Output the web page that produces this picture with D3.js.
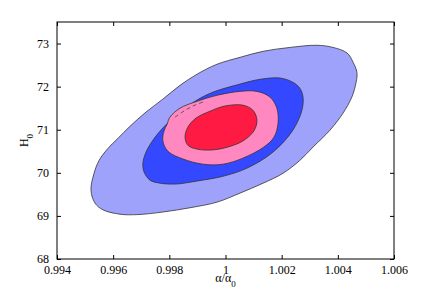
<!DOCTYPE html>
<html><head><meta charset="utf-8">
<script src="https://cdn.jsdelivr.net/npm/d3@7"></script>
<style>html,body{margin:0;padding:0;background:#fff;}svg{display:block;}</style>
</head><body><svg id="c" width="436" height="293"></svg>
<script>
const xTicks = [0.994, 0.996, 0.998, 1, 1.002, 1.004, 1.006];
const xTickLabels = ["0.994","0.996","0.998","1","1.002","1.004","1.006"];
const yTicks = [68, 69, 70, 71, 72, 73];
const yTickLabels = ["68","69","70","71","72","73"];

// contour level names
const levels = ["outer", "blue", "pink", "red"];
const levelColors = ["#9ea2fb", "#3348ff", "#ff88c0", "#ff1a44"];

// contour polygons (alpha/alpha0, H0)
const outerX = [0.99521,0.99532,0.99550,0.99582,0.99617,0.99660,0.99717,0.99777,0.99838,0.99899,0.99970,1.00052,1.00134,1.00230,1.00326,1.00383,1.00433,1.00454,1.00468,1.00465,1.00450,1.00418,1.00372,1.00312,1.00265,1.00205,1.00134,1.00052,0.99970,0.99874,0.99777,0.99685,0.99624,0.99564,0.99535];
const outerY = [69.60,69.99,70.29,70.57,70.80,71.08,71.41,71.71,72.03,72.29,72.52,72.68,72.82,72.91,72.96,72.91,72.78,72.57,72.33,72.10,71.76,71.38,70.99,70.60,70.29,69.99,69.76,69.53,69.32,69.19,69.09,69.03,69.04,69.14,69.30];

const blueX = [1.00052,1.00123,1.00194,1.00240,1.00265,1.00276,1.00272,1.00240,1.00169,1.00077,0.99991,0.99899,0.99824,0.99767,0.99731,0.99710,0.99706,0.99717,0.99742,0.99777,0.99838,0.99899,0.99955];
const blueY = [72.06,72.17,72.20,72.10,71.96,71.76,71.45,70.99,70.48,70.11,69.92,69.81,69.74,69.76,69.83,70.02,70.23,70.48,70.76,71.04,71.41,71.69,71.87];

const pinkX = [0.99802,0.99838,0.99899,0.99970,1.00052,1.00112,1.00158,1.00183,1.00187,1.00173,1.00137,1.00062,0.99991,0.99920,0.99849,0.99795,0.99777,0.99781,0.99792];
const pinkY = [71.29,71.50,71.66,71.80,71.89,71.89,71.76,71.50,71.15,70.83,70.60,70.34,70.20,70.20,70.32,70.50,70.74,70.97,71.13];

const redX = [0.99856,0.99866,0.99895,0.99945,0.99998,1.00062,1.00098,1.00112,1.00101,1.00062,1.00009,0.99952,0.99899,0.99866];
const redY = [70.83,71.06,71.27,71.43,71.55,71.57,71.45,71.22,70.97,70.74,70.60,70.53,70.55,70.64];

const dashX = [0.99820,0.99856,0.99891,0.99927];
const dashY = [71.29,71.45,71.57,71.66];

const W = 436, H = 293;
const m = {left: 57, right: 42, top: 22, bottom: 34};
const x = d3.scaleLinear().domain([0.994, 1.006]).range([m.left, W - m.right]);
const y = d3.scaleLinear().domain([68, 73.5]).range([H - m.bottom, m.top]);

const svg = d3.select("#c");
const font = "'Liberation Serif','Times New Roman',serif";

const polys = [[outerX, outerY], [blueX, blueY], [pinkX, pinkY], [redX, redY]];
const closed = d3.line().x(d => x(d[0])).y(d => y(d[1])).curve(d3.curveCatmullRomClosed.alpha(0.5));
const open = d3.line().x(d => x(d[0])).y(d => y(d[1])).curve(d3.curveCatmullRom);

svg.append("g").selectAll("path").data(polys).join("path")
  .attr("d", p => closed(p[0].map((v, i) => [v, p[1][i]])))
  .attr("fill", (p, i) => levelColors[i])
  .attr("stroke", "#333")
  .attr("stroke-width", 0.8);

svg.append("path")
  .attr("d", open(dashX.map((v, i) => [v, dashY[i]])))
  .attr("fill", "none").attr("stroke", "#444").attr("stroke-width", 0.8)
  .attr("stroke-dasharray", "4,3");

// frame
const x0 = x(0.994), x1 = x(1.006), y0 = y(68), y1 = y(73.5);
svg.append("rect").attr("x", x0).attr("y", y1).attr("width", x1 - x0).attr("height", y0 - y1)
  .attr("fill", "none").attr("stroke", "#000").attr("stroke-width", 1);

const tl = 4;
const axB = d3.axisBottom(x).tickValues(xTicks).tickFormat((d, i) => xTickLabels[i]).tickSizeInner(-tl).tickSizeOuter(0).tickPadding(6);
const gb = svg.append("g").attr("transform", `translate(0,${y0})`).call(axB);
const axT = d3.axisTop(x).tickValues(xTicks).tickFormat("").tickSizeInner(-tl).tickSizeOuter(0);
const gt = svg.append("g").attr("transform", `translate(0,${y1})`).call(axT);
const axL = d3.axisLeft(y).tickValues(yTicks).tickFormat((d, i) => yTickLabels[i]).tickSizeInner(-tl).tickSizeOuter(0).tickPadding(8);
const gl = svg.append("g").attr("transform", `translate(${x0},0)`).call(axL);
const axR = d3.axisRight(y).tickValues(yTicks).tickFormat("").tickSizeInner(-tl).tickSizeOuter(0);
const gr = svg.append("g").attr("transform", `translate(${x1},0)`).call(axR);
[gb, gt, gl, gr].forEach(g => {
  g.attr("font-family", font);
  g.select(".domain").remove();
  g.selectAll("line").attr("stroke", "#000");
  g.selectAll("text").attr("font-family", font).attr("font-size", 12).attr("fill", "#000");
});

// axis labels
const xl = svg.append("text").attr("x", x(1)).attr("y", 282).attr("text-anchor", "middle")
  .attr("font-family", font).attr("font-size", 12);
xl.append("tspan").text("α/α");
xl.append("tspan").attr("font-size", 9).attr("dy", 5).text("0");

const yl = svg.append("text").attr("transform", `translate(28,${(y0 + y1) / 2}) rotate(-90)`).attr("text-anchor", "middle")
  .attr("font-family", font).attr("font-size", 12);
yl.append("tspan").text("H");
yl.append("tspan").attr("font-size", 9).attr("dy", 5).text("0");
</script></body></html>
